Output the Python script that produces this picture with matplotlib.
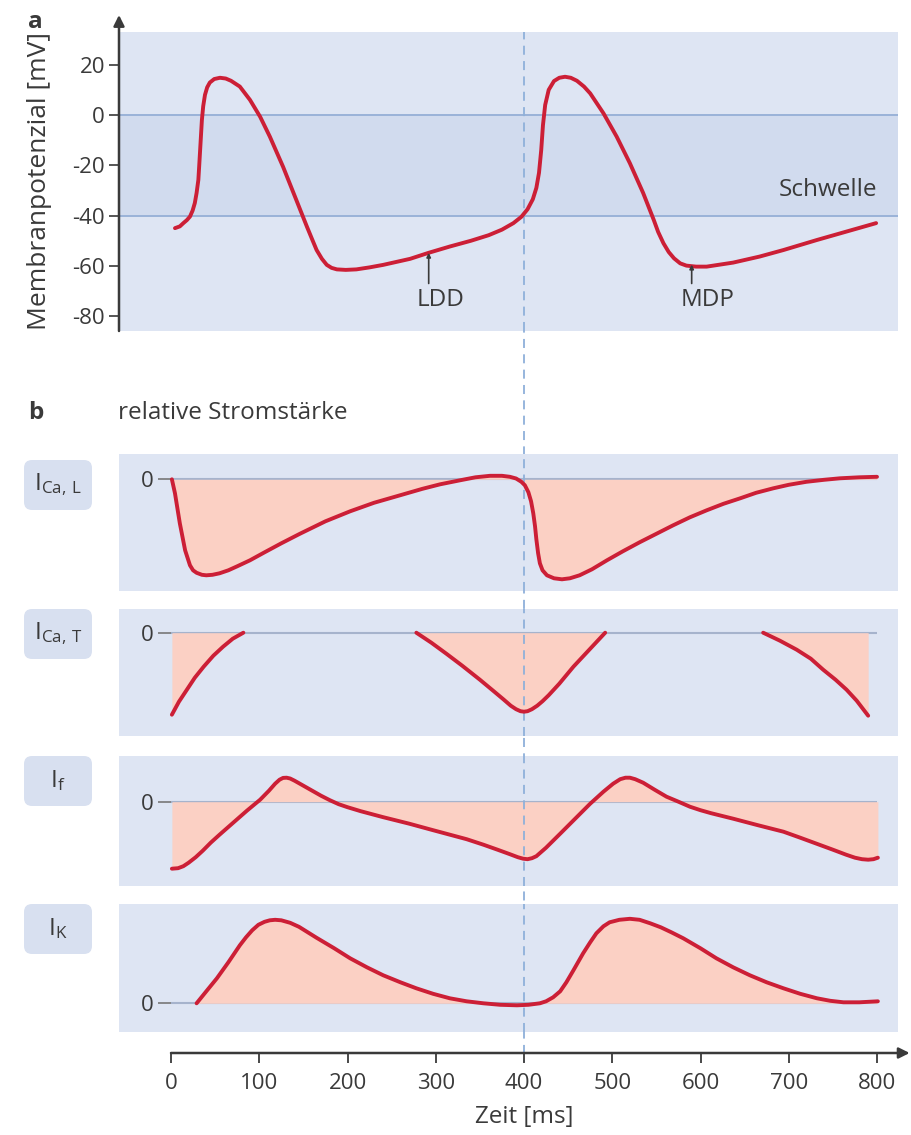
import matplotlib
matplotlib.use("Agg")
import matplotlib.pyplot as plt
import matplotlib.transforms as mtransforms
from matplotlib.lines import Line2D
from matplotlib.patches import FancyBboxPatch

# ---- data ----
# a: membrane potential of a pacemaker cell [mV] over time [ms]
ap_t = [4.5, 10, 14, 18, 21.5, 24.5, 27, 29, 31, 32, 33, 34, 35, 36.5, 38.5, 41, 44, 49, 55.5, 62,
        68, 78, 89.5, 101, 112, 127, 142, 154, 160, 165, 171, 176.5, 182, 188, 198, 210, 225,
        240.5, 271, 292, 316, 340, 360, 375, 388, 397, 404, 410, 414, 417, 419.5, 421.5, 424, 428,
        434, 440, 446.5, 453, 460, 468, 475, 490, 505, 520, 535, 547, 552, 558, 564, 570, 577, 584,
        595, 607, 637, 667, 694, 732, 769, 799]
ap_v = [-45, -44.3, -43, -41.8, -40.4, -38, -35, -31, -25.8, -20, -14, -8, -2, 3.5, 8, 11, 12.9,
        14.3, 14.8, 14.5, 13.6, 11.3, 6, -0.7, -8.6, -20.6, -33.8, -44.4, -49.5, -53.7, -57.2,
        -59.6, -60.8, -61.4, -61.6, -61.4, -60.6, -59.6, -57.2, -54.8, -52.3, -50.0, -47.8, -45.6,
        -43.0, -40.5, -37.5, -33.5, -29, -23, -14, -4, 4, 10, 13.5, 14.8, 15.2, 14.8, 13.6, 11.3,
        8.6, 0.7, -8.6, -19.2, -31, -41.7, -46.5, -51, -54.5, -57, -59, -59.9, -60.3, -60.3, -58.7,
        -56.3, -53.7, -49.7, -46, -43]
ap_ticks = [20, 0, -20, -40, -60, -80]

# b: relative currents
cal_t = [1, 4.5, 10, 16, 21.5, 25, 29, 35, 40, 47, 55, 65, 75, 89.5, 105, 125, 146, 175, 203, 230,
         259.5, 285, 305, 327.5, 345, 361.5, 375, 384, 391, 397, 401, 405, 408, 410.5, 412.5, 414,
         416, 418, 421, 426, 434, 443, 452, 463, 477, 494, 512, 531, 550, 569, 588, 607, 626, 645,
         663, 682.5, 700, 720, 740, 758, 780, 800]
cal_v = [0, -0.14, -0.44, -0.71, -0.86, -0.91, -0.935, -0.955, -0.96, -0.955, -0.94, -0.91, -0.87,
         -0.81, -0.735, -0.64, -0.545, -0.42, -0.32, -0.235, -0.16, -0.095, -0.05, -0.01, 0.02,
         0.035, 0.035, 0.025, 0.008, -0.025, -0.06, -0.13, -0.22, -0.34, -0.47, -0.6, -0.74, -0.84,
         -0.91, -0.96, -0.99, -1.0, -0.99, -0.96, -0.90, -0.81, -0.72, -0.63, -0.545, -0.46,
         -0.38, -0.31, -0.245, -0.19, -0.135, -0.09, -0.055, -0.025, -0.005, 0.01, 0.02, 0.025]

cat_t1 = [1, 9, 18, 27, 37, 48, 59, 70, 82]
cat_v1 = [-0.82, -0.69, -0.57, -0.45, -0.34, -0.23, -0.14, -0.06, 0]
cat_t2 = [278, 295, 312, 330, 350, 365, 376.5, 385, 391, 396, 400, 404, 409, 415, 421, 428, 440,
          456, 474, 492]
cat_v2 = [0, -0.10, -0.21, -0.33, -0.47, -0.58, -0.665, -0.73, -0.765, -0.785, -0.79, -0.785,
          -0.765, -0.73, -0.685, -0.625, -0.51, -0.34, -0.17, 0]
cat_t3 = [671, 690, 709, 725, 739, 753, 765.5, 777, 790]
cat_v3 = [0, -0.08, -0.17, -0.26, -0.37, -0.47, -0.57, -0.68, -0.83]

if_t = [1, 8, 14, 20, 28, 36, 45, 55, 70.5, 86, 101, 111, 118, 123, 127, 131, 135, 140, 150, 160,
        170, 180, 190, 200, 215, 240.5, 270, 297, 316, 335, 354, 370, 384, 393, 399, 404, 409,
        414, 425, 441, 458, 475, 490, 501, 509, 515, 520, 526, 535, 548, 561.5, 575, 588, 600,
        612, 637, 665, 694, 713, 731.5, 750, 765, 775, 783, 790, 796, 801]
if_v = [-0.67, -0.665, -0.645, -0.61, -0.555, -0.49, -0.41, -0.33, -0.21, -0.09, 0.02, 0.11, 0.18,
        0.22, 0.238, 0.24, 0.232, 0.21, 0.16, 0.11, 0.06, 0.015, -0.025, -0.055, -0.095, -0.155,
        -0.22, -0.285, -0.33, -0.375, -0.43, -0.48, -0.525, -0.555, -0.57, -0.575, -0.565,
        -0.545, -0.46, -0.32, -0.17, -0.02, 0.1, 0.18, 0.225, 0.24, 0.24, 0.225, 0.19, 0.12,
        0.05, 0.0, -0.05, -0.085, -0.115, -0.17, -0.235, -0.3, -0.36, -0.42, -0.48, -0.53, -0.56,
        -0.575, -0.58, -0.575, -0.56]

ik_t = [29, 40, 52, 65, 78, 85, 92, 99, 106, 112, 118, 125, 135, 145, 155, 165, 185, 203, 222,
        240.5, 260, 278, 297, 316, 335, 354, 373, 392, 405, 418, 425, 433, 441, 448, 456, 467, 475,
        482, 490, 497, 508, 520, 531, 543, 555, 567, 580.5, 600, 618, 637, 656, 675, 694, 713,
        732, 747, 762, 780, 801]
ik_v = [0, 0.12, 0.25, 0.41, 0.58, 0.66, 0.73, 0.785, 0.815, 0.83, 0.835, 0.83, 0.805, 0.765,
        0.71, 0.655, 0.55, 0.45, 0.36, 0.28, 0.21, 0.15, 0.095, 0.05, 0.02, 0.0, -0.015, -0.02,
        -0.015, 0.0, 0.02, 0.06, 0.12, 0.21, 0.33, 0.5, 0.61, 0.7, 0.77, 0.81, 0.835, 0.845,
        0.835, 0.8, 0.76, 0.71, 0.65, 0.55, 0.45, 0.36, 0.28, 0.21, 0.15, 0.095, 0.05, 0.025,
        0.01, 0.01, 0.02]

time_ticks = [0, 100, 200, 300, 400, 500, 600, 700, 800]

# ---- style ----
W, H = 911, 1135
plt.rcParams['font.family'] = ['Open Sans', 'DejaVu Sans']
TEXT = '#3a3a3a'
AXIS = '#3a3a3a'
BG = '#dee5f3'
BAND = '#d1dbee'
LINE = '#9ab2d8'
ZERO = '#a6b3cc'
DASH = '#8fb0da'
RED = '#cc1f36'
FILL = '#fbd0c4'
BOX = '#d8e0f0'
FS = 16      # tick labels
FS_T = 17.5  # other text

fig = plt.figure(figsize=(W / 100, H / 100), dpi=100)
fig.patch.set_facecolor('white')


def add_px_axes(x0, y0, x1, y1):
    # axes from a pixel box of the reference (origin top left)
    return fig.add_axes([x0 / W, 1 - y1 / H, (x1 - x0) / W, (y1 - y0) / H])


# 0 ms sits at x=171 px, 800 ms at x=877 px
ms_px = (877 - 171) / 800
xlim = (-(171 - 119) / ms_px, 800 + (898 - 877) / ms_px)
dash = (0, (5, 3.5))
curve_kw = dict(color=RED, lw=2.8, zorder=3, solid_capstyle='round', solid_joinstyle='round')

# ---- a: action potential ----
ax = add_px_axes(119, 32, 898, 331)
ax.set_xlim(xlim)
ax.set_ylim(-85.9, 33.0)
ax.set_facecolor(BG)
ax.axhspan(-40, 0, color=BAND, lw=0, zorder=0.5)
ax.axhline(0, color=LINE, lw=1.4, zorder=1)
ax.axhline(-40, color=LINE, lw=1.4, zorder=1)
ax.axvline(400, color=DASH, lw=1.3, ls=dash, zorder=1.5)
ax.plot(ap_t, ap_v, **curve_kw)
for s in ax.spines.values():
    s.set_visible(False)
ax.set_xticks([])
ax.set_yticks(ap_ticks)
ax.set_yticklabels([str(v) for v in ap_ticks])
ax.tick_params(axis='y', direction='out', length=7, width=1.2, color=AXIS,
               labelsize=FS, labelcolor=TEXT, pad=3)
# left axis with arrow head
ax.annotate('', xy=(0, 1 + 17 / 299), xytext=(0, 0), xycoords='axes fraction',
            arrowprops=dict(arrowstyle='-|>', lw=1.8, color=AXIS, shrinkA=0, shrinkB=0,
                            mutation_scale=16), annotation_clip=False)

# markers LDD / MDP and threshold label
ax.annotate('', xy=(292, -54.8), xytext=(292, -67),
            arrowprops=dict(arrowstyle='-|>', lw=1.2, color=AXIS, shrinkA=0, shrinkB=0,
                            mutation_scale=6))
ax.text(306, -73.6, 'LDD', ha='center', va='center', fontsize=FS_T, color=TEXT)
ax.annotate('', xy=(590, -59.5), xytext=(590, -67),
            arrowprops=dict(arrowstyle='-|>', lw=1.2, color=AXIS, shrinkA=0, shrinkB=0,
                            mutation_scale=6))
ax.text(608, -73.6, 'MDP', ha='center', va='center', fontsize=FS_T, color=TEXT)
ax.text(800, -29.8, 'Schwelle', ha='right', va='center', fontsize=FS_T, color=TEXT)

fig.text(28 / W, 1 - 22 / H, 'a', fontsize=FS_T, fontweight='bold', color=TEXT,
         ha='left', va='center')
fig.text(40 / W, 1 - 181 / H, 'Membranpotenzial [mV]', rotation=90, fontsize=19, color=TEXT,
         ha='center', va='center')

# ---- b: currents ----
fig.text(28 / W, 1 - 413 / H, 'b', fontsize=FS_T, fontweight='bold', color=TEXT,
         ha='left', va='center')
fig.text(118 / W, 1 - 413 / H, 'relative Stromstärke', fontsize=FS_T, color=TEXT,
         ha='left', va='center')

panels = [
    # (top px, bottom px, zero px, box top px, label, segments)
    (454, 590.7, 479.3, 460, r'$\mathregular{I_{Ca,\,L}}$', [(cal_t, cal_v)]),
    (609.3, 736, 632.7, 609, r'$\mathregular{I_{Ca,\,T}}$',
     [(cat_t1, cat_v1), (cat_t2, cat_v2), (cat_t3, cat_v3)]),
    (756, 885.7, 801.7, 756, r'$\mathregular{I_f}$', [(if_t, if_v)]),
    (904.3, 1031.7, 1003.3, 904, r'$\mathregular{I_K}$', [(ik_t, ik_v)]),
]

for top, bot, zero, box_top, label, segs in panels:
    axc = add_px_axes(119, top, 898, bot)
    axc.set_xlim(xlim)
    axc.set_ylim((zero - bot) / 100, (zero - top) / 100)
    axc.set_facecolor(BG)
    axc.hlines(0, 0, 800, color=ZERO, lw=1.5, zorder=1)
    for t, v in segs:
        axc.fill_between(t, v, 0, color=FILL, lw=0, zorder=1.2)
        axc.plot(t, v, **curve_kw)
    axc.axvline(400, color=DASH, lw=1.3, ls=dash, zorder=1.5)
    for s in axc.spines.values():
        s.set_color('none')
    axc.spines['left'].set_position(('data', 0))
    axc.set_xticks([])
    axc.set_yticks([0])
    axc.set_yticklabels(['0'])
    axc.tick_params(axis='y', direction='out', length=9.5, width=1.2, color='#777777',
                    labelsize=FS, labelcolor=TEXT, pad=3)
    # label box on the left
    box = FancyBboxPatch((24 / 100, (H - box_top - 50) / 100), 68 / 100, 50 / 100,
                         boxstyle='round,pad=0,rounding_size=0.08',
                         transform=fig.dpi_scale_trans, fc=BOX, ec='none')
    fig.add_artist(box)
    fig.text(58 / W, 1 - (box_top + 25) / H, label, fontsize=FS_T, color=TEXT,
             ha='center', va='center')

# ---- time axis ----
axx = add_px_axes(119, 1052, 898, 1053)
axx.set_xlim(xlim)
axx.set_ylim(0, 1)
axx.patch.set_visible(False)
for s in axx.spines.values():
    s.set_visible(False)
axx.set_yticks([])
axx.set_xticks(time_ticks)
axx.set_xticklabels([str(v) for v in time_ticks])
axx.tick_params(axis='x', direction='out', length=7.5, width=1.3, color=AXIS,
                labelsize=FS, labelcolor=TEXT, pad=7)
axx.annotate('', xy=(837, 0), xytext=(0, 0), xycoords=('data', 'axes fraction'),
             arrowprops=dict(arrowstyle='-|>', lw=1.8, color=AXIS, shrinkA=0, shrinkB=0,
                             mutation_scale=16), annotation_clip=False)
fig.text(524 / W, 1 - 1117 / H, 'Zeit [ms]', fontsize=FS_T, color=TEXT, ha='center', va='center')

# dashed marker at 400 ms running through the gaps between the panels
trans = mtransforms.blended_transform_factory(ax.transData, fig.transFigure)
fig.add_artist(Line2D([400, 400], [1 - 32 / H, 1 - 1062 / H], transform=trans, color=DASH,
                      lw=1.3, ls=dash, zorder=-1))

fig.savefig('out.png', dpi=100)
